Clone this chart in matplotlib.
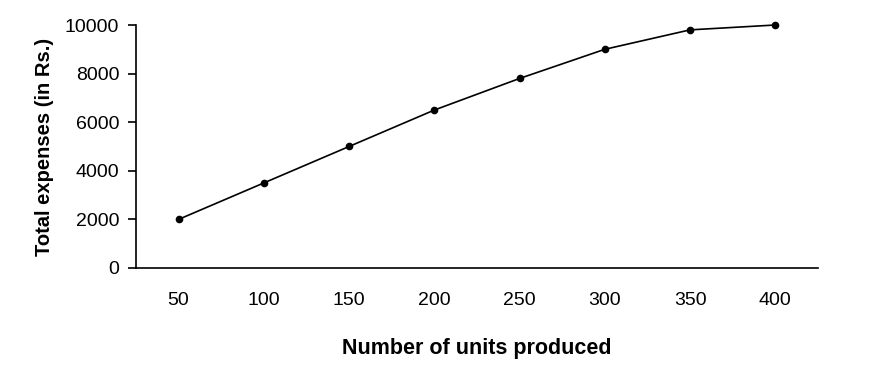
import matplotlib.pyplot as plt

plt.rcParams['font.family'] = ['Liberation Sans', 'DejaVu Sans']

# units produced and total expenses
units = [50, 100, 150, 200, 250, 300, 350, 400]
expenses = [2000, 3500, 5000, 6500, 7800, 9000, 9800, 10000]

fig = plt.figure(figsize=(8.91, 3.65), dpi=100)
ax = fig.add_axes([0.1526, 0.2658, 0.7654, 0.6657])

pos = list(range(len(units)))
ax.plot(pos, expenses, color='black', linewidth=1.2, marker='o', markersize=4.5, clip_on=False)

ax.set_xlim(-0.5, len(units) - 0.5)
ax.set_ylim(0, 10000)
ax.set_xticks(pos)
ax.set_xticklabels([str(u) for u in units])
ax.set_yticks(range(0, 10001, 2000))

ax.spines['top'].set_visible(False)
ax.spines['right'].set_visible(False)
ax.spines['left'].set_linewidth(1.2)
ax.spines['bottom'].set_linewidth(1.2)
ax.tick_params(axis='x', length=0, pad=17, labelsize=14)
ax.tick_params(axis='y', length=6, width=1.2, pad=6, labelsize=14)

ax.set_xlabel("Number of units produced", fontsize=15.5, fontweight='bold', labelpad=21)
ax.set_ylabel("Total expenses (in Rs.)", fontsize=14.5, fontweight='bold', labelpad=8)

fig.savefig('out.png', dpi=100)
